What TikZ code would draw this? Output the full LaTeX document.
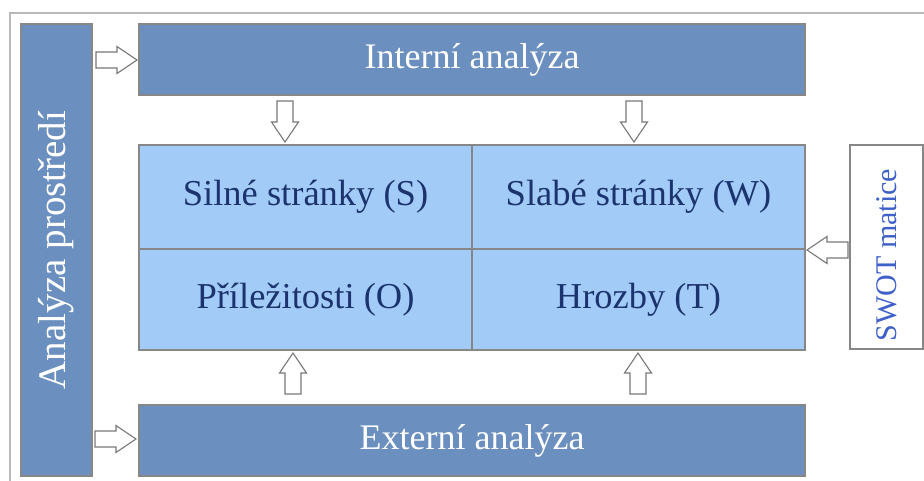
\documentclass[tikz,border=0pt]{standalone}
\usepackage{fontspec}
\setmainfont{Liberation Serif}
\usetikzlibrary{calc}
\definecolor{darkbox}{RGB}{107,143,190}
\definecolor{lightbox}{RGB}{162,203,247}
\definecolor{boxedge}{RGB}{135,135,135}
\definecolor{celltext}{RGB}{28,52,110}
\definecolor{swottext}{RGB}{62,96,200}
\definecolor{framegray}{RGB}{185,185,185}
\definecolor{arrowedge}{RGB}{120,120,120}
\tikzset{
  darkrect/.style={draw=boxedge, line width=1.6pt, fill=darkbox, text=white, inner sep=0pt, outer sep=0pt,
    font=\fontsize{36}{40}\selectfont},
  cell/.style={draw=boxedge, line width=1.2pt, fill=lightbox, text=celltext, inner sep=0pt, outer sep=0pt,
    minimum width=333pt, font=\fontsize{36.5}{40}\selectfont},
  swotbox/.style={draw=boxedge, line width=1.4pt, fill=white, inner sep=0pt, outer sep=0pt},
  swotlabel/.style={text=swottext, inner sep=0pt, font=\fontsize{30}{34}\selectfont},
  blockarrow/.style={draw=arrowedge, line width=1.1pt, fill=white, line join=miter},
}
\newcommand{\myblockarrow}[2]{%
  \begin{scope}[shift={#1}, rotate=#2]
    \draw[blockarrow] (0,0) -- (-20,13.5) -- (-20,8) -- (-41,8) -- (-41,-8) -- (-20,-8) -- (-20,-13.5) -- cycle;
  \end{scope}}
\begin{document}
\begin{tikzpicture}[x=1pt,y=-1pt]
\useasboundingbox (0,0) rectangle (924,481);
% outer frame
\draw[framegray, line width=1.6pt] (10,482) -- (10,13) -- (925,13);
% boxes
\node[darkrect, minimum width=666pt, minimum height=71pt] (intern) at (472,59.5) {Interní analýza};
\node[darkrect, minimum width=666pt, minimum height=71pt] (extern) at (472,440.5) {Externí analýza};
\node[darkrect, rotate=90, minimum width=452pt, minimum height=71pt, font=\fontsize{39}{43}\selectfont] (env) at (56.5,250) {Analýza prostředí};
% matrix
\node[cell, minimum height=104pt] (s) at (305.5,197) {Silné stránky (S)};
\node[cell, minimum height=104pt] (w) at (638.5,197) {Slabé stránky (W)};
\node[cell, minimum height=101pt] (o) at (305.5,299.5) {Příležitosti (O)};
\node[cell, minimum height=101pt] (t) at (638.5,299.5) {Hrozby (T)};
% swot box
\node[swotbox, minimum width=73pt, minimum height=204pt] (swot) at (886.5,247) {};
\node[swotlabel, rotate=90] (swotlbl) at ($(swot.center)+(0,8)$) {SWOT matice};
% arrows
\myblockarrow{($(intern.west)+(-2,0.5)$)}{0}
\myblockarrow{($(extern.west)+(-3,-1.5)$)}{0}
\myblockarrow{($(s.north)+(-20.5,-3)$)}{-90}
\myblockarrow{($(w.north)+(-4.5,-3)$)}{-90}
\myblockarrow{($(o.south)+(-12.5,3)$)}{90}
\myblockarrow{($(t.south)+(-0.5,3)$)}{90}
\myblockarrow{($(w.south east)+(2,1)$)}{180}
\end{tikzpicture}
\end{document}
